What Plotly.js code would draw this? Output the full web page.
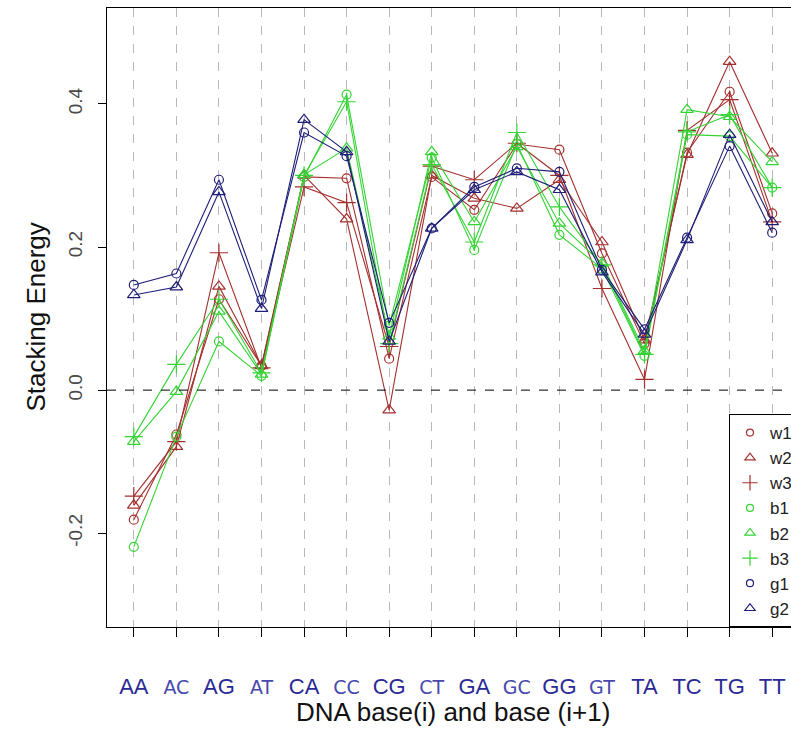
<!DOCTYPE html>
<html>
<head>
<meta charset="utf-8">
<script src="https://cdn.plot.ly/plotly-3.0.1.min.js"></script>
<style>
html,body{margin:0;padding:0;background:#fff;overflow:hidden;width:791px;height:729px;}
#chart{width:800px;height:729px;}
</style>
</head>
<body>
<div id="chart"></div>
<script>
const categories = ["AA","AC","AG","AT","CA","CC","CG","CT","GA","GC","GG","GT","TA","TC","TG","TT"];
const w1 = [-0.181,-0.062,0.127,0.034,0.298,0.296,0.044,0.298,0.252,0.344,0.336,0.191,0.065,0.332,0.417,0.247];
const w2 = [-0.161,-0.079,0.145,0.034,0.300,0.239,-0.028,0.300,0.268,0.254,0.294,0.207,0.070,0.329,0.459,0.331];
const w3 = [-0.148,-0.072,0.192,0.031,0.284,0.262,0.061,0.313,0.294,0.345,0.300,0.142,0.015,0.363,0.406,0.235];
const b1 = [-0.219,-0.065,0.068,0.020,0.298,0.413,0.090,0.325,0.196,0.344,0.217,0.170,0.048,0.357,0.355,0.283];
const b2 = [-0.072,-0.002,0.110,0.022,0.301,0.338,0.075,0.333,0.235,0.340,0.233,0.177,0.055,0.392,0.382,0.319];
const b3 = [-0.065,0.036,0.127,0.024,0.300,0.403,0.065,0.315,0.207,0.360,0.256,0.175,0.050,0.361,0.385,0.283];
const g1 = [0.147,0.163,0.294,0.126,0.360,0.327,0.094,0.226,0.284,0.310,0.305,0.168,0.085,0.213,0.341,0.220];
const g2 = [0.133,0.144,0.277,0.114,0.378,0.333,0.068,0.226,0.280,0.305,0.280,0.165,0.078,0.210,0.357,0.235];
const seriesNames = ["w1","w2","w3","b1","b2","b3","g1","g2"];
const yTicks = [-0.2,0.0,0.2,0.4];
const yTickText = ["-0.2","0.0","0.2","0.4"];

const BROWN = "#A3302E", GREEN = "#35D335", NAVY = "#1E1E78";
const styles = {
  w1:{c:BROWN,s:"circle-open",z:9}, w2:{c:BROWN,s:"triangle-up-open",z:11}, w3:{c:BROWN,s:"cross-thin-open",z:13},
  b1:{c:GREEN,s:"circle-open",z:9}, b2:{c:GREEN,s:"triangle-up-open",z:11}, b3:{c:GREEN,s:"cross-thin-open",z:13},
  g1:{c:NAVY,s:"circle-open",z:9}, g2:{c:NAVY,s:"triangle-up-open",z:11}
};
const dataMap = {w1,w2,w3,b1,b2,b3,g1,g2};
const xIdx = categories.map((c,i)=>i);
const traces = [];
seriesNames.forEach(n=>{
  const st = styles[n];
  traces.push({x:xIdx, y:dataMap[n], type:"scatter", mode:"lines+markers", name:n, showlegend:false,
    line:{color:st.c, width:1.1},
    marker:{symbol:st.s, size:st.z, color:st.c, line:{color:st.c, width:1.2}}});
});
seriesNames.forEach(n=>{
  const st = styles[n];
  traces.push({x:[null], y:[null], type:"scatter", mode:"markers", name:n, showlegend:true,
    marker:{symbol:st.s, size:st.z-2, color:st.c, line:{color:st.c, width:1.2}}});
});

const altIdx = new Set([1,3,5,7,9,11]);
const tickText = categories.map((c,i)=> altIdx.has(i)
  ? '<span style="font-family:DejaVu Sans;font-size:19px;color:#4848AE">'+c+'</span>'
  : '<span style="color:#2A2A96">'+c+'</span>');

const layout = {
  width:800, height:729,
  margin:{l:107, r:1, t:8, b:102},
  paper_bgcolor:"#fff", plot_bgcolor:"#fff",
  font:{family:"Liberation Sans, Arial, sans-serif", color:"#222"},
  xaxis:{
    range:[-0.63,15.63], tickmode:"array", tickvals:xIdx, ticktext:tickText,
    showgrid:true, gridcolor:"#b8b8b8", griddash:"dash", gridwidth:1,
    zeroline:false, showline:true, linecolor:"#000", linewidth:1, mirror:true,
    ticks:"outside", ticklen:9, tickcolor:"#000", tickfont:{size:22, color:"#2A2A96"},
    ticklabelstandoff:31
  },
  yaxis:{
    range:[-0.331,0.534], tickmode:"array", tickvals:yTicks, ticktext:yTickText,
    tickangle:-90, showgrid:false, zeroline:false,
    showline:true, linecolor:"#000", linewidth:1, mirror:true,
    ticks:"outside", ticklen:8, tickcolor:"#000", tickfont:{size:19, color:"#4a4a4a"},
    ticklabelstandoff:8
  },
  annotations:[
    {text:"DNA base(i) and base (i+1)", xref:"paper", yref:"paper", x:0.5, y:0, xanchor:"center", yanchor:"middle",
     yshift:-85, showarrow:false, font:{size:26, color:"#111"}},
    {text:"Stacking Energy", xref:"paper", yref:"paper", x:0, y:0.5, xanchor:"center", yanchor:"middle",
     xshift:-72, textangle:-90, showarrow:false, font:{size:26, color:"#111"}}
  ],
  shapes:[{type:"line", xref:"paper", x0:0, x1:1, yref:"y", y0:0, y1:0, line:{color:"#000", width:1, dash:"dash"}}],
  legend:{x:1, xanchor:"right", y:0, yanchor:"bottom", bgcolor:"#fff", bordercolor:"#000", borderwidth:1,
    font:{size:17, color:"#222"}, tracegroupgap:0, itemwidth:30},
  showlegend:true
};
Plotly.newPlot("chart", traces, layout, {displayModeBar:false, staticPlot:true});
</script>
</body>
</html>
